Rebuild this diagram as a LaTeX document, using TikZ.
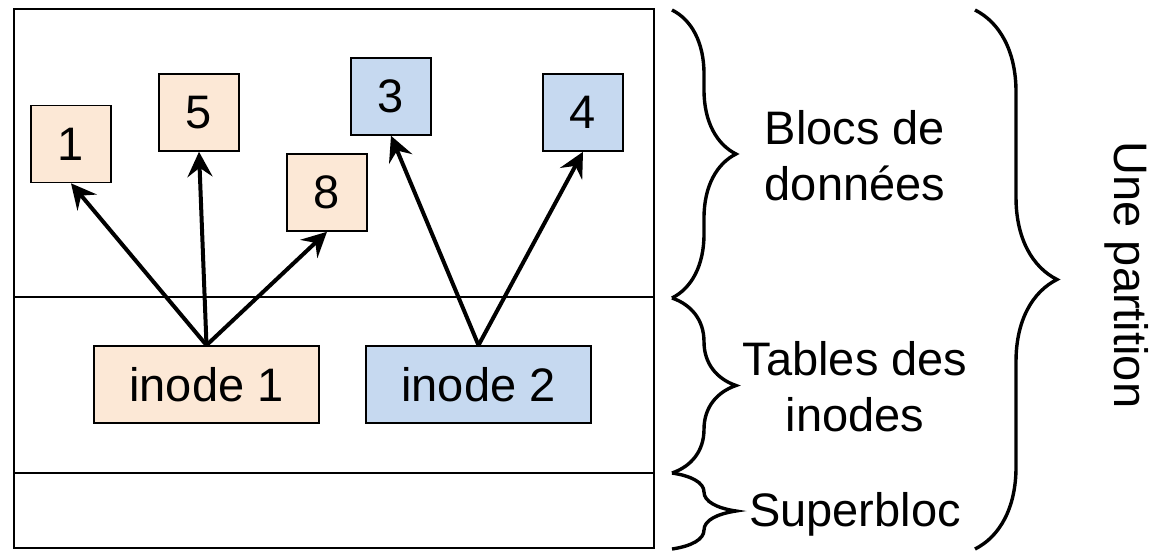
\documentclass[tikz,border=0pt]{standalone}
\usepackage{fontspec}
\setmainfont{Liberation Sans}
\usepackage{tikz}
\usetikzlibrary{positioning}
\usetikzlibrary{arrows.meta, decorations.pathreplacing}
\tikzstyle{arrow} = [line width=2pt,-{Stealth[length=12.5pt,width=12.5pt,inset=4.5pt]}]
\definecolor{peach}{RGB}{252,232,214}
\definecolor{paleblue}{RGB}{198,217,240}

\begin{document}
\begin{tikzpicture}[
    x = 0.5pt, y = -0.5pt,
    every node/.style = {font = \fontsize{23.5}{28}\selectfont},
    bloc/.style = {draw, line width=0.8pt, minimum width=40pt, minimum height=38.5pt, inner sep=0pt},
    inode/.style = {bloc, minimum width=112.5pt},
    accolade/.style = {decorate, line width=1.7pt, decoration = {brace, amplitude=32pt}}
  ]
  \useasboundingbox (0,0) rectangle (1159,552);

  % Partition
  \draw[line width=0.8pt] (14,9) rectangle (654,548);
  \draw[line width=0.8pt] (14,297) -- (654,297);
  \draw[line width=0.8pt] (14,473) -- (654,473);

  % Blocs
  \node[bloc, fill = peach] (1) at (71,144) {1};
  \node[bloc, fill = peach] (5) at (199,112.5) {5};
  \node[bloc, fill = peach] (8) at (327,192.5) {8};
  \node[bloc, fill = paleblue] (3) at (391,96.5) {3};
  \node[bloc, fill = paleblue] (4) at (583,112.5) {4};

  % Inodes
  \node[inode, fill = peach] (inode1) at (206.5,384.5) {inode 1};
  \node[inode, fill = paleblue] (inode2) at (478.5,384.5) {inode 2};

  \draw[arrow] (inode1.north) -- (1.south);
  \draw[arrow] (inode1.north) -- (5.south);
  \draw[arrow] (inode1.north) -- (8.south);
  \draw[arrow] (inode2.north) -- (3.south);
  \draw[arrow] (inode2.north) -- (4.south);

  % Accolades
  \coordinate (top) at (672,10);
  \coordinate (mid) at (672,298);
  \coordinate (low) at (672,473);
  \coordinate (bot) at (672,549);
  \draw[accolade] (top) -- (mid);
  \draw[accolade] (mid) -- (low);
  \draw[accolade] (low) -- (bot);
  \coordinate (ptop) at (975,10);
  \coordinate (pbot) at (975,549);
  \draw[accolade, decoration = {amplitude=41pt}] (ptop) -- (pbot);

  % Labels
  \node[align = center] (blocs) at (855,156) {Blocs de\\données};
  \node[align = center] (tables) at (855,387) {Tables des\\inodes};
  \node (superbloc) at (855,514) {Superbloc};
  \node[rotate = -90] (partition) at (1127,275) {Une partition};
\end{tikzpicture}
\end{document}
